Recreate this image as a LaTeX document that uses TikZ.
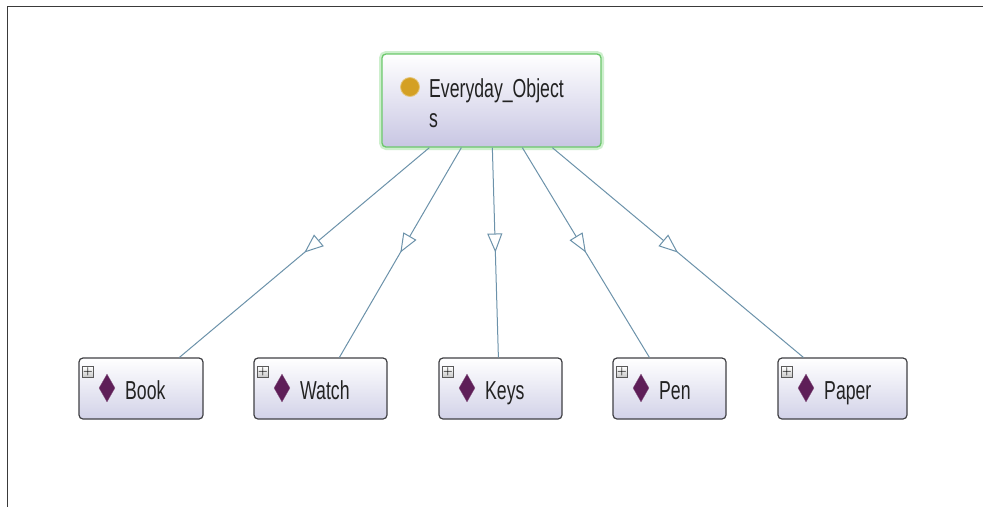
\documentclass[tikz,border=0pt]{standalone}
\usepackage{fontspec}
\newfontfamily\lblfont[FakeStretch=0.68]{Liberation Sans}
\usetikzlibrary{arrows.meta,decorations.markings,shapes.geometric,calc}
\definecolor{edgec}{HTML}{6C92AA}
\definecolor{nodeborder}{HTML}{404044}
\definecolor{lav}{HTML}{D2D2E8}
\definecolor{toplav}{HTML}{C8C6E3}
\definecolor{greenb}{HTML}{6CC86C}
\definecolor{glow}{HTML}{CDEFCD}
\definecolor{gold}{HTML}{D4A024}
\definecolor{purp}{HTML}{5E1E58}
\definecolor{txt}{HTML}{222222}
\definecolor{frame}{HTML}{3A3A3A}
\begin{document}
\begin{tikzpicture}[x=1pt,y=-1pt,
  cls/.style={draw=nodeborder, line width=1.2pt, rounded corners=4pt,
    top color=white, bottom color=lav, minimum height=61pt, inner sep=0pt},
  topcls/.style={draw=greenb, line width=1.3pt, rounded corners=4pt,
    top color=white, bottom color=toplav, minimum width=219pt, minimum height=93pt, inner sep=0pt},
  lbl/.style={anchor=base west, inner sep=0pt, text=txt, font=\lblfont\fontsize{26}{30}\selectfont},
  gem/.style={diamond, fill=purp, draw=purp!70, line width=0.3pt, minimum width=16pt, minimum height=28pt, inner sep=0pt},
  plusbox/.style={draw=black!65, line width=0.8pt, top color=white, bottom color=gray!45,
    minimum width=11pt, minimum height=11pt, inner sep=0pt, font=\fontsize{11}{11}\selectfont\bfseries},
  edge/.style={draw=edgec, line width=1pt, postaction={decorate},
    decoration={markings, mark=at position 0.5 with {\arrow{Triangle[length=19pt,width=15pt,fill=white,line width=1pt]}}}}
]
\useasboundingbox (0,0) rectangle (983,507);
\fill[white] (0,0) rectangle (983,507);
% frame
\draw[frame, line width=1.3pt] (983,6.5) -- (7.5,6.5) -- (7.5,507);

% top node
\draw[glow, line width=4pt, rounded corners=5pt] (381,53) rectangle (602,148);
\node[topcls] (top) at (491.5,100.5) {};
\node[circle, fill=gold, draw=gold!60, line width=0.8pt, minimum size=19pt, inner sep=0pt] (dot) at (410,87) {};
\node[lbl] (t1) at (429,97) {Everyday\_Object};
\node[lbl] (t2) at (429,127) {s};

% bottom nodes
\node[cls, minimum width=124pt] (book) at (141,388.5) {};
\node[cls, minimum width=133pt] (watch) at (320.5,388.5) {};
\node[cls, minimum width=123pt] (keys) at (500.5,388.5) {};
\node[cls, minimum width=113pt] (pen) at (669.5,388.5) {};
\node[cls, minimum width=129pt] (paper) at (842.5,388.5) {};

\foreach \n/\lx/\t in {book/79/Book, watch/254/Watch, keys/439/Keys, pen/613/Pen, paper/778/Paper}{
  \node[plusbox] (\n-plus) at (\lx+9,372) {+};
  \node[gem] (\n-gem) at (\lx+28,388) {};
  \node[lbl] (\n-lbl) at (\lx+46,399) {\t};
}

% edges
\draw[edge] ($(top.south west)+(48,0)$) -- ($(book.north west)+(101,0)$);
\draw[edge] ($(top.south west)+(80,0)$) -- ($(watch.north west)+(86,0)$);
\draw[edge] ($(top.south west)+(111,0)$) -- ($(keys.north west)+(60,0)$);
\draw[edge] ($(top.south west)+(141,0)$) -- ($(pen.north west)+(37,0)$);
\draw[edge] ($(top.south west)+(171,0)$) -- ($(paper.north west)+(26,0)$);
\end{tikzpicture}
\end{document}
